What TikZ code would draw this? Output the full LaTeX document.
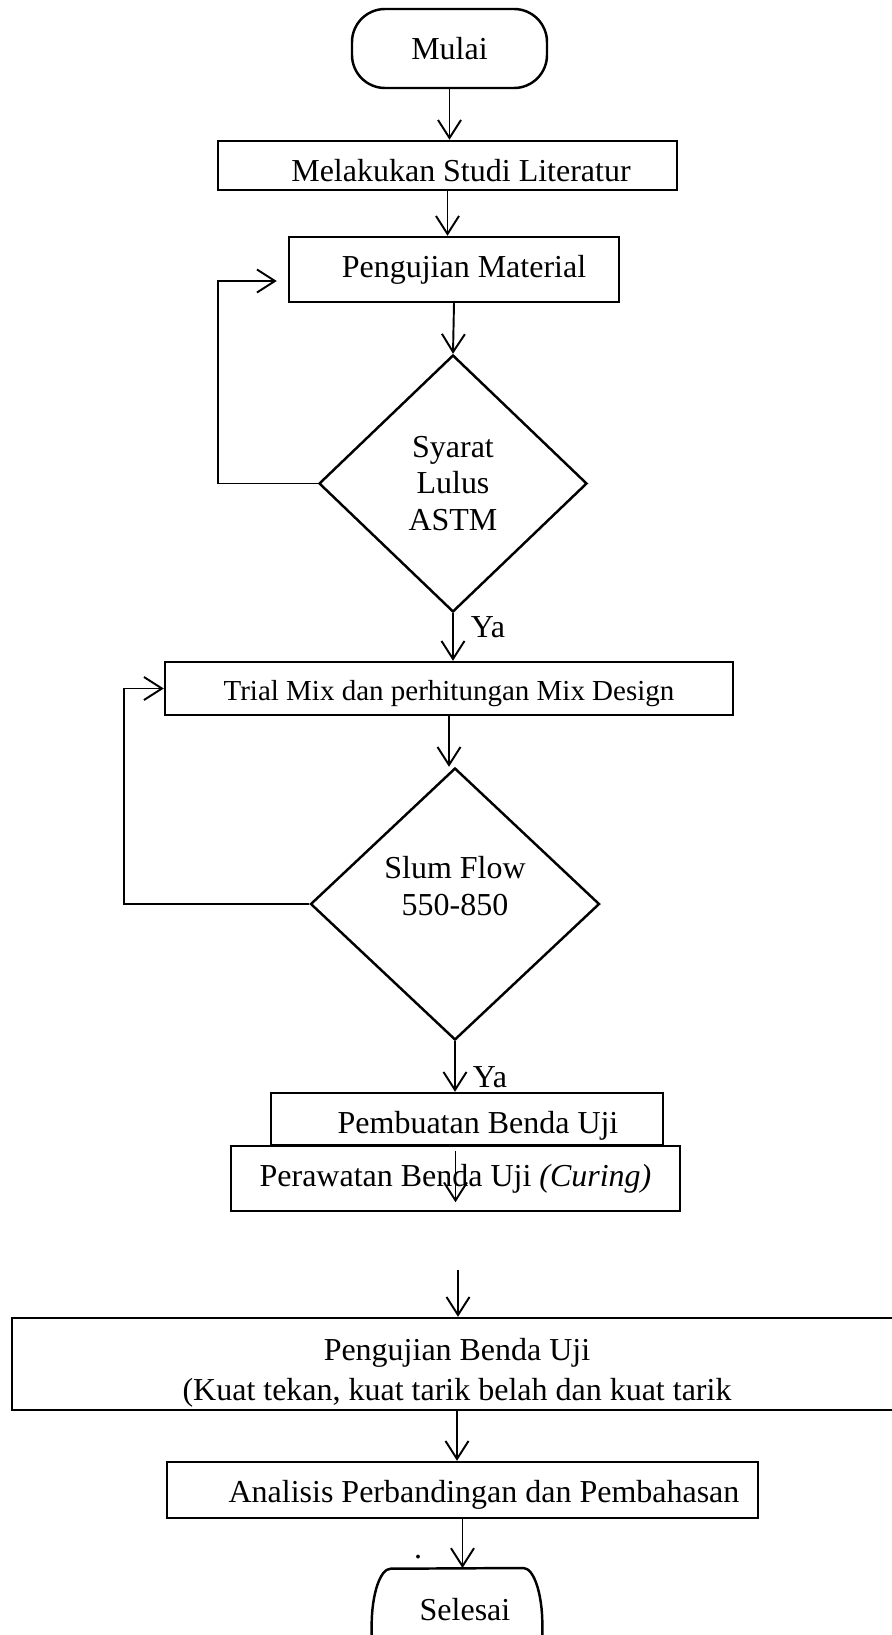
\documentclass[tikz,border=0pt]{standalone}
\usepackage{fontspec}
\setmainfont{Liberation Serif}
\usepackage{tikz}
\usetikzlibrary{arrows.meta,shapes.geometric}
\newcommand{\geser}[2]{\raisebox{#1}[\height][\depth]{#2}}

\begin{document}
\begin{tikzpicture}[>={Straight Barb[length=0.36cm,width=0.46cm]},
		font=\fontsize{18.2}{21}\selectfont,
		box/.style={draw, line width=1.4pt, rectangle, inner sep=0pt},
		terminal/.style={box, rounded corners=0.66cm},
		decision/.style={draw, line width=1.4pt, diamond, inner sep=0pt, align=center},
		flow/.style={->, line width=1.1pt}]
			\useasboundingbox (0,0) rectangle (17.84,-32.7);
			\node[terminal, minimum width=3.9cm, minimum height=1.58cm] (mulai) at (8.99,-0.97) {Mulai};
			\node[box, minimum width=9.18cm, minimum height=0.98cm] (studi) at (8.95,-3.31) {\geser{-0.1cm}{\hspace*{0.54cm}Melakukan Studi Literatur}};
			\node[box, minimum width=6.6cm, minimum height=1.3cm] (material) at (9.08,-5.39) {\hspace*{0.4cm}Pengujian Material};
			\node[decision, minimum width=5.36cm, minimum height=5.14cm] (astm) at (9.06,-9.67) {Syarat\\Lulus\\ASTM};
			\node[box, minimum width=11.36cm, minimum height=1.06cm, font=\fontsize{16.5}{19}\selectfont] (trial) at (8.98,-13.77) {\geser{-0.1cm}{Trial Mix dan perhitungan Mix Design}};
			\node[decision, minimum width=5.78cm, minimum height=5.44cm] (slump) at (9.10,-18.08) {Slum Flow\\550-850\\\mbox{}};
			\node[box, minimum width=7.84cm, minimum height=1.04cm] (buat) at (9.34,-22.38) {\geser{-0.14cm}{\hspace*{0.44cm}Pembuatan Benda Uji}};
			\node[box, minimum width=8.98cm, minimum height=1.3cm] (rawat) at (9.11,-23.57) {Perawatan Benda Uji \textit{(Curing)}};
			\coordinate (celah) at (9.16,-25.4);
			\node[box, minimum width=17.8cm, minimum height=1.84cm] (uji) at (9.14,-27.28) {};
			\node[align=center, font=\fontsize{18.2}{22.8}\selectfont] (ujiteks) at ([yshift=-0.18cm]uji.center) {Pengujian Benda Uji\\(Kuat tekan, kuat tarik belah dan kuat tarik};
			\node[box, minimum width=11.82cm, minimum height=1.12cm] (analisis) at (9.25,-29.80) {\geser{-0.1cm}{\hspace*{0.86cm}Analisis Perbandingan dan Pembahasan}};
			\node[anchor=base] (titik) at (8.36,-31.16) {.};
			\node[inner sep=0pt, minimum width=3.4cm, minimum height=2.28cm, anchor=north] (selesai) at (9.14,-31.36) {\geser{0.32cm}{\hspace*{0.32cm}Selesai}};
			\draw[line width=1.4pt] (selesai.south west) -- ++(0,1.14) arc[x radius=0.38cm, y radius=1.14cm, start angle=180, end angle=90] -- ([xshift=-0.38cm]selesai.north east) arc[x radius=0.38cm, y radius=1.14cm, start angle=90, end angle=0] -- (selesai.south east);

			\draw[flow] (mulai.south) -- (mulai.south |- studi.north);
			\draw[flow] (studi.south) -- (studi.south |- material.north);
			\draw[flow] (material.south) -- (astm.north);
			\draw[flow] (astm.south) -- node[right, pos=0.3, inner sep=0pt, xshift=0.34cm] (ya1) {Ya} (astm.south |- trial.north);
			\draw[flow] (astm.west) -- ++(-2cm,0) |- ([xshift=-0.22cm,yshift=-0.23cm]material.west);
			\draw[flow] (trial.south) -- (trial.south |- slump.north);
			\draw[flow] (slump.south) -- node[right, pos=0.72, inner sep=0pt, xshift=0.34cm] (ya2) {Ya} (slump.south |- buat.north);
			\draw[flow] (slump.west) -- ++(-3.7cm,0) |- (trial.west);
			\draw[flow] ([yshift=-0.12cm]rawat.north) -- ([yshift=0.2cm]rawat.south);
			\draw[flow] (celah) -- (celah |- uji.north);
			\draw[flow] (uji.south) -- (uji.south |- analisis.north);
			\draw[flow] (analisis.south) -- (analisis.south |- selesai.north);
		\end{tikzpicture}
\end{document}
